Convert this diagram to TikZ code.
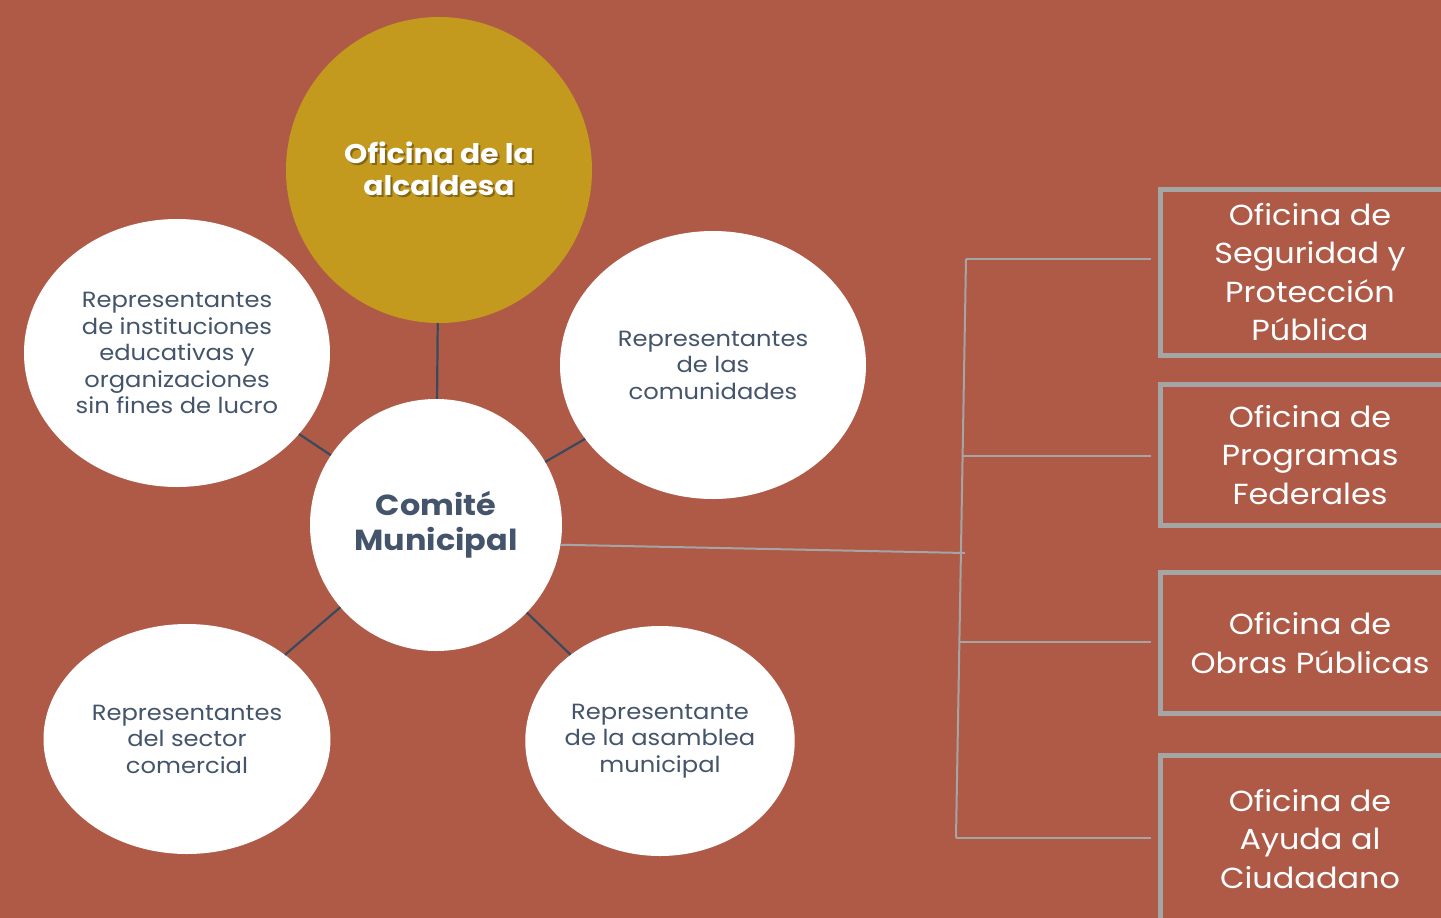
\documentclass[tikz,border=0pt]{standalone}
\usepackage{fontspec}
\setmainfont{Poppins}[FakeStretch=1.1]
\usetikzlibrary{shapes.geometric}
\definecolor{brick}{HTML}{AF5A47}
\definecolor{gold}{HTML}{C3991E}
\definecolor{slate}{HTML}{44546A}
\definecolor{linkdark}{HTML}{3A4A5E}
\definecolor{frame}{HTML}{A5A5A5}
\definecolor{shade}{HTML}{5E4510}
\tikzset{
  bubble/.style={ellipse, fill=white, inner sep=0pt, align=center, text=slate,
    font=\fontsize{22}{26.5}\selectfont},
  link/.style={draw=linkdark, line width=2.2pt},
  branch/.style={draw=frame, line width=2pt},
  office/.style={rectangle, draw=frame, line width=5pt, fill=brick, text=white,
    minimum width=300pt, align=center, font=\fontsize{29}{38.3}\selectfont}
}
\begin{document}
\begin{tikzpicture}[x=1pt,y=-1pt]
    % fondo
    \fill[brick] (0,0) rectangle (1441,918);
    \useasboundingbox (0,0) rectangle (1441,918);

    % circulos
    \node[circle, fill=gold, minimum size=306pt, inner sep=0pt] (alcaldesa) at (439,170) {};
        \node[text=shade, opacity=0.6, align=center, font=\bfseries\fontsize{27}{32}\selectfont]
            at (441,171) {Oficina de la\\alcaldesa};
        \node[text=white, align=center, font=\bfseries\fontsize{27}{32}\selectfont]
            (alcaldesaText) at (439,169) {Oficina de la\\alcaldesa};
    \node[circle, fill=white, minimum size=252pt, inner sep=0pt, text=slate, align=center,
        font=\bfseries\fontsize{29}{35}\selectfont] (comite) at (436,525) {Comité\\Municipal};

    \node[bubble, minimum width=306pt, minimum height=268pt] (educativas) at (177,353)
        {Representantes\\de instituciones\\educativas y\\organizaciones\\sin fines de lucro};
    \node[bubble, minimum width=306pt, minimum height=268pt] (comunidades) at (713,365)
        {Representantes\\de las\\comunidades};
    \node[bubble, minimum width=287pt, minimum height=230pt] (comercial) at (187,739)
        {Representantes\\del sector\\comercial};
    \node[bubble, minimum width=268pt, minimum height=230pt] (asamblea) at (660,741)
        {Representante\\de la asamblea\\municipal};

    \draw[link] (alcaldesa) -- (comite);
    \draw[link] (educativas) -- (comite);
    \draw[link] (comunidades) -- (comite);
    \draw[link] (comercial) -- (comite);
    \draw[link] (asamblea) -- (comite);

    % oficinas
    \node[office, minimum height=166pt] (seguridad) at (1310,272)
        {Oficina de\\Seguridad y\\Protección\\Pública};
    \node[office, minimum height=141pt] (federales) at (1310,455)
        {Oficina de\\Programas\\Federales};
    \node[office, minimum height=141pt] (obras) at (1310,643)
        {Oficina de\\Obras Públicas};
    \node[office, minimum height=168pt] (ciudadano) at (1310,839)
        {Oficina de\\Ayuda al\\Ciudadano};

    \coordinate (t1) at (966,259);
    \coordinate (t2) at (962.6,456);
    \coordinate (t3) at (959.4,642);
    \coordinate (t4) at (956,838);
    \coordinate (junta) at (965,553);

    \draw[branch] (comite.-9) -- (junta);
    \draw[branch] (t1) -- (t4);
    \draw[branch, shorten >=7pt] (t1) -- (t1 -| seguridad.west);
    \draw[branch, shorten >=7pt] (t2) -- (t2 -| federales.west);
    \draw[branch, shorten >=7pt] (t3) -- (t3 -| obras.west);
    \draw[branch, shorten >=7pt] (t4) -- (t4 -| ciudadano.west);
\end{tikzpicture}
\end{document}
